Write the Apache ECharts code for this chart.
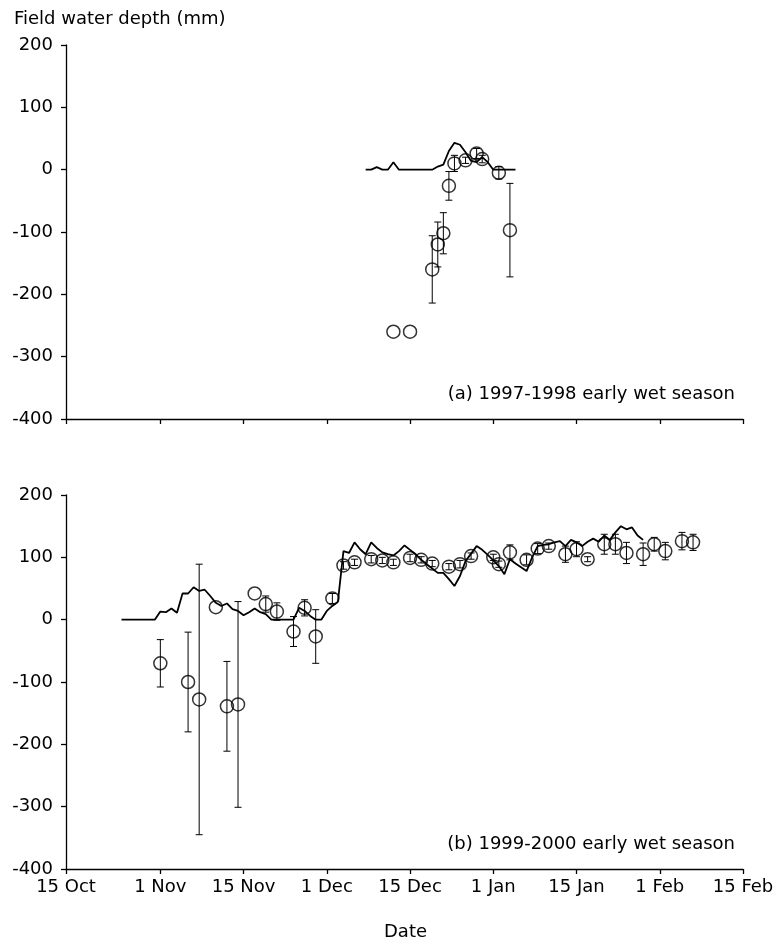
<!DOCTYPE html>
<html><head><meta charset="utf-8">
<script src="https://cdn.jsdelivr.net/npm/echarts@6/dist/echarts.min.js"></script>
<style>html,body{margin:0;padding:0;background:#fff}#c{width:777px;height:949px}</style>
</head><body><div id="c"></div>
<script>
// x values are days after 15 Oct
const tickDays = [0, 17, 32, 47, 62, 77, 92, 107, 122];
const tickLabels = ['15 Oct', '1 Nov', '15 Nov', '1 Dec', '15 Dec', '1 Jan', '15 Jan', '1 Feb', '15 Feb'];

// (a) 1997-1998 simulated depth (line)
const lineA_days = [54, 55, 56, 57, 58, 59, 60, 61, 62, 63, 64, 65, 66, 67, 68, 69, 70, 71, 72, 73, 74, 75, 76, 77, 78, 79, 80, 81];
const lineA_vals = [0, 0, 4, 0, 0, 12, 0, 0, 0, 0, 0, 0, 0, 5, 8, 30, 43, 40, 28, 14, 12, 20, 12, 0, 0, 0, 0, 0];
// (a) observed depth (mean, error)
const obsA_days = [59, 62, 66, 67, 68, 69, 70, 72, 74, 75, 78, 80];
const obsA_mean = [-260, -260, -160, -120, -102, -26, 10, 15, 26, 17, -5, -97];
const obsA_err  = [0, 0, 54, 36, 33, 23, 13, 5, 8, 6, 10, 75];

// (b) 1999-2000 simulated depth (line)
const lineB_days = [10, 11, 12, 13, 14, 15, 16, 17, 18, 19, 20, 21, 22, 23, 24, 25, 26, 27, 28, 29, 30, 31, 32, 33, 34, 35, 36, 37, 38, 39, 40, 41, 42, 43, 44, 45, 46, 47, 48, 49, 50, 51, 52, 53, 54, 55, 56, 57, 58, 59, 60, 61, 62, 63, 64, 65, 66, 67, 68, 69, 70, 71, 72, 73, 74, 75, 76, 77, 78, 79, 80, 81, 82, 83, 84, 85, 86, 87, 88, 89, 90, 91, 92, 93, 94, 95, 96, 97, 98, 99, 100, 101, 102, 103, 104];
const lineB_vals = [0, 0, 0, 0, 0, 0, 0, 13, 12, 18, 11, 42, 42, 52, 46, 48, 38, 27, 22, 26, 17, 14, 7, 12, 18, 12, 9, 0, 0, 0, 0, 0, 19, 14, 6, 0, 0, 14, 22, 29, 110, 107, 124, 113, 105, 124, 115, 108, 105, 103, 110, 119, 112, 105, 96, 89, 82, 75, 75, 65, 54, 70, 94, 106, 118, 112, 104, 95, 86, 73, 97, 90, 84, 78, 100, 118, 120, 121, 124, 126, 118, 128, 124, 118, 125, 130, 125, 135, 128, 140, 150, 145, 148, 135, 128];
// (b) observed depth (mean, error)
const obsB_days = [17, 22, 24, 27, 29, 31, 34, 36, 38, 41, 43, 45, 48, 50, 52, 55, 57, 59, 62, 64, 66, 69, 71, 73, 77, 78, 80, 83, 85, 87, 90, 92, 94, 97, 99, 101, 104, 106, 108, 111, 113];
const obsB_mean = [-70, -100, -128, 20, -139, -136, 42, 25, 13, -19, 19, -27, 34, 87, 92, 97, 95, 92, 99, 96, 90, 85, 89, 102, 100, 89, 108, 96, 114, 118, 105, 113, 97, 121, 121, 107, 105, 121, 110, 126, 124];
const obsB_err  = [38, 80, 217, 0, 72, 165, 0, 13, 14, 24, 13, 43, 8, 6, 5, 6, 5, 5, 6, 5, 5, 5, 6, 5, 5, 5, 12, 8, 8, 5, 13, 12, 4, 16, 16, 17, 18, 11, 14, 14, 13];

const yMin = -400, yMax = 200, yStep = 100;
const FONT = 'DejaVu Sans';
const FS = 18;

function zip2(a, b) { return a.map((v, i) => [v, b[i]]); }
function zip3(a, b, c) { return a.map((v, i) => [v, b[i], c[i]]); }

function errRender(params, api) {
  const x = api.value(0), m = api.value(1), e = api.value(2);
  if (!e) return null;
  const top = api.coord([x, m + e]);
  const bot = api.coord([x, m - e]);
  const hw = 3.5;
  const st = { stroke: '#000', lineWidth: 1 };
  return {
    type: 'group',
    children: [
      { type: 'line', shape: { x1: top[0], y1: top[1], x2: bot[0], y2: bot[1] }, style: st },
      { type: 'line', shape: { x1: top[0] - hw, y1: top[1], x2: top[0] + hw, y2: top[1] }, style: st },
      { type: 'line', shape: { x1: bot[0] - hw, y1: bot[1], x2: bot[0] + hw, y2: bot[1] }, style: st }
    ]
  };
}

function xAxisCfg(gridIndex, showLabels) {
  return {
    type: 'value', gridIndex, min: tickDays[0], max: tickDays[tickDays.length - 1],
    axisLine: { show: true, onZero: false, lineStyle: { color: '#000', width: 1.3 } },
    axisTick: { show: true, inside: false, length: 5, customValues: tickDays, lineStyle: { color: '#000', width: 1.3 } },
    axisLabel: {
      show: showLabels, customValues: tickDays, margin: 9,
      color: '#000', fontFamily: FONT, fontSize: FS,
      formatter: v => { const i = tickDays.indexOf(v); return i >= 0 ? tickLabels[i] : ''; }
    },
    splitLine: { show: false }
  };
}
function yAxisCfg(gridIndex) {
  return {
    type: 'value', gridIndex, min: yMin, max: yMax, interval: yStep,
    axisLine: { show: true, onZero: false, lineStyle: { color: '#000', width: 1.3 } },
    axisTick: { show: true, inside: false, length: 5, lineStyle: { color: '#000', width: 1.3 } },
    axisLabel: { color: '#000', fontFamily: FONT, fontSize: FS, margin: 13 },
    splitLine: { show: false }
  };
}

const circleStyle = { color: 'rgba(0,0,0,0)', borderColor: '#000', borderWidth: 1.5 };
const lineStyle = { color: '#000', width: 1.8 };

const chart = echarts.init(document.getElementById('c'), null, { renderer: 'canvas' });
chart.setOption({
  animation: false,
  backgroundColor: '#fff',
  grid: [
    { left: 66, width: 677, top: 45, height: 374 },
    { left: 66, width: 677, top: 495, height: 374 }
  ],
  xAxis: [xAxisCfg(0, false), xAxisCfg(1, true)],
  yAxis: [yAxisCfg(0), yAxisCfg(1)],
  graphic: [
    { type: 'text', left: 14, top: 10, style: { text: 'Field water depth (mm)', font: FS + 'px "' + FONT + '"', fill: '#000' } },
    { type: 'text', right: 42, top: 385, style: { text: '(a) 1997-1998 early wet season', font: FS + 'px "' + FONT + '"', fill: '#000' } },
    { type: 'text', right: 42, top: 835, style: { text: '(b) 1999-2000 early wet season', font: FS + 'px "' + FONT + '"', fill: '#000' } },
    { type: 'text', left: 384, top: 923, style: { text: 'Date', font: FS + 'px "' + FONT + '"', fill: '#000' } }
  ],
  series: [
    { type: 'line', xAxisIndex: 0, yAxisIndex: 0, data: zip2(lineA_days, lineA_vals), showSymbol: false, symbol: 'none', lineStyle, z: 2 },
    { type: 'custom', xAxisIndex: 0, yAxisIndex: 0, data: zip3(obsA_days, obsA_mean, obsA_err), renderItem: errRender, encode: { x: 0, y: 1 }, z: 3 },
    { type: 'scatter', xAxisIndex: 0, yAxisIndex: 0, data: zip2(obsA_days, obsA_mean), symbol: 'circle', symbolSize: 13, itemStyle: circleStyle, z: 4 },
    { type: 'line', xAxisIndex: 1, yAxisIndex: 1, data: zip2(lineB_days, lineB_vals), showSymbol: false, symbol: 'none', lineStyle, z: 2 },
    { type: 'custom', xAxisIndex: 1, yAxisIndex: 1, data: zip3(obsB_days, obsB_mean, obsB_err), renderItem: errRender, encode: { x: 0, y: 1 }, z: 3 },
    { type: 'scatter', xAxisIndex: 1, yAxisIndex: 1, data: zip2(obsB_days, obsB_mean), symbol: 'circle', symbolSize: 13, itemStyle: circleStyle, z: 4 }
  ]
});
</script>
</body></html>
